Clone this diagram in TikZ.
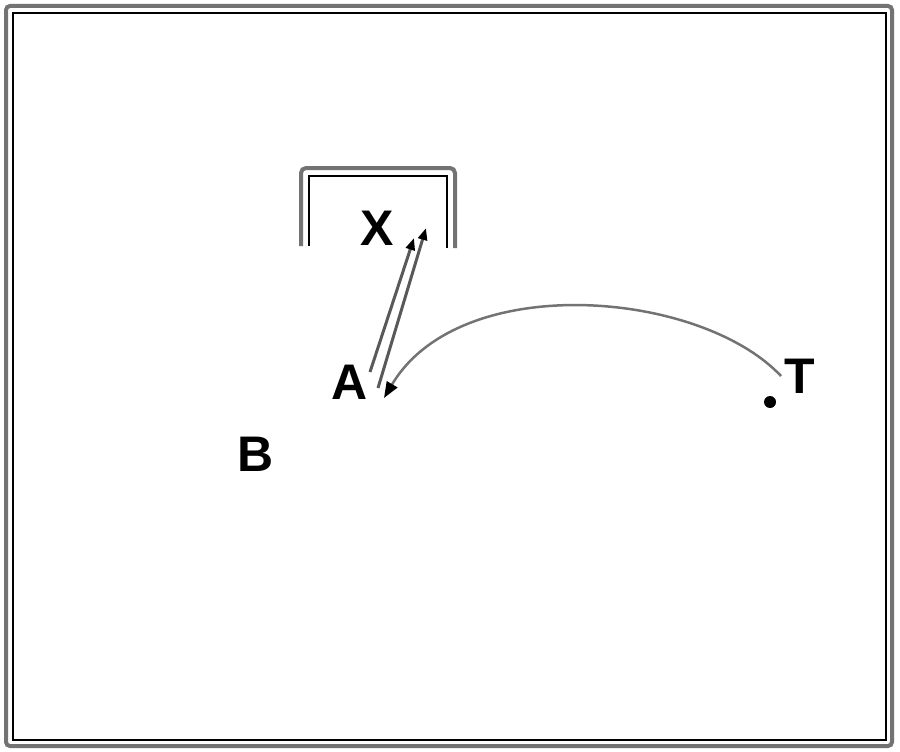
\documentclass[tikz,border=0pt]{standalone}
\usepackage{fontspec}
\setmainfont{Liberation Sans}
\usetikzlibrary{arrows.meta}
\begin{document}
\begin{tikzpicture}[x=1pt,y=-1pt,
  lbl/.style={inner sep=0pt,font=\fontsize{50}{50}\selectfont\bfseries},
  grayline/.style={draw=black!55,line width=4pt},
  thinline/.style={draw=black,line width=1.5pt},
  arr/.style={draw=black!65,line width=3pt,-{Triangle[length=12pt,width=9pt,color=black]}}]
\useasboundingbox (0,0) rectangle (900,752);
% frame
\draw[grayline,rounded corners=4pt] (6,6) rectangle (892,746);
\draw[thinline] (13,13) rectangle (886,740);
% bracket
\draw[grayline,rounded corners=5pt] (301,246) -- (301,168) -- (455,168) -- (455,248);
\draw[thinline] (309,246) -- (309,176) -- (447,176) -- (447,248);
% labels
\node[lbl] (X) at (377,228) {X};
\node[lbl] (A) at (350,382) {A};
\node[lbl] (T) at (800,376) {T};
\node[lbl] (B) at (256,454) {B};
\fill (770,402) circle (6pt) coordinate (dot);
% arrows A -> X
\coordinate (a1) at (370,372);
\coordinate (x1) at (414,238);
\coordinate (a2) at (378,388);
\coordinate (x2) at (426,228);
\draw[arr] (a1) -- (x1);
\draw[arr] (a2) -- (x2);
% curve T -> A
\coordinate (t1) at (781,376);
\coordinate (a3) at (384,398);
\draw[draw=black!55,line width=2.5pt,-{Triangle[length=16pt,width=12pt,color=black]}] (t1) .. controls (700,290) and (460,270) .. (a3);
\end{tikzpicture}
\end{document}
